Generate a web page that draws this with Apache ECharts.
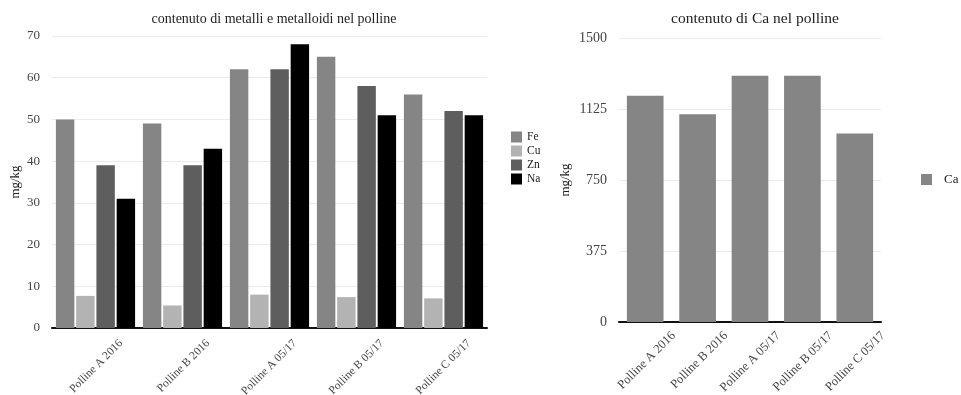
<!DOCTYPE html>
<html>
<head>
<meta charset="utf-8">
<script src="https://cdn.jsdelivr.net/npm/echarts@6/dist/echarts.min.js"></script>
<style>
  html, body { margin: 0; padding: 0; background: #fff; }
  #chart { width: 961px; height: 395px; }
</style>
</head>
<body>
<div id="chart"></div>
<script>
// Sample names shared by both panels
const categories = ['Polline A 2016', 'Polline B 2016', 'Polline A 05/17', 'Polline B 05/17', 'Polline C 05/17'];

// Metals and metalloids, mg/kg
const fe = [50, 49, 62, 65, 56];
const cu = [7.7, 5.4, 8.0, 7.4, 7.1];
const zn = [39, 39, 62, 58, 52];
const na = [31, 43, 68, 51, 51];

// Calcium, mg/kg
const ca = [1195, 1097, 1300, 1300, 995];

const leftTicks = [0, 10, 20, 30, 40, 50, 60, 70];
const rightTicks = [0, 375, 750, 1125, 1500];

const FONT = '"Liberation Serif", "DejaVu Serif", serif';
const TEXT = '#444';

const chart = echarts.init(document.getElementById('chart'), null, { renderer: 'canvas' });

function catAxis(gridIndex, fontSize, shift, margin) {
  return {
    type: 'category',
    gridIndex: gridIndex,
    data: categories,
    axisLine: { lineStyle: { color: '#111', width: 2 } },
    axisTick: { show: false },
    axisLabel: {
      rotate: 45,
      interval: 0,
      hideOverlap: false,
      margin: margin,
      fontFamily: FONT,
      fontSize: fontSize,
      color: TEXT,
      // slide each label along its own direction so it ends right of the category centre
      padding: [0, -shift, 0, 0]
    }
  };
}

function valAxis(gridIndex, ticks, fontSize, nameGap) {
  return {
    type: 'value',
    gridIndex: gridIndex,
    min: ticks[0],
    max: ticks[ticks.length - 1],
    interval: ticks[1] - ticks[0],
    name: 'mg/kg',
    nameLocation: 'middle',
    nameGap: nameGap,
    nameTextStyle: { fontFamily: FONT, fontSize: 13, color: '#222' },
    axisLine: { show: false },
    axisTick: { show: false },
    axisLabel: {
      fontFamily: FONT, fontSize: fontSize, color: TEXT, margin: 12,
      formatter: function (v) { return String(v); }
    },
    splitLine: { lineStyle: { color: '#ebebeb', width: 1 } }
  };
}

function metalSeries(name, data, color) {
  return {
    name: name,
    type: 'bar',
    xAxisIndex: 0,
    yAxisIndex: 0,
    data: data,
    barGap: '10%',
    barCategoryGap: '9%',
    itemStyle: { color: color },
    emphasis: { disabled: true }
  };
}

chart.setOption({
  animation: false,
  backgroundColor: '#fff',
  title: [
    {
      text: 'contenuto di metalli e metalloidi nel polline',
      left: 269, top: 7, textAlign: 'center',
      textStyle: { fontFamily: FONT, fontSize: 14, fontWeight: 'normal', color: '#222' }
    },
    {
      text: 'contenuto di Ca nel polline',
      left: 750, top: 6, textAlign: 'center',
      textStyle: { fontFamily: FONT, fontSize: 15.5, fontWeight: 'normal', color: '#222' }
    }
  ],
  legend: [
    {
      data: ['Fe', 'Cu', 'Zn', 'Na'],
      orient: 'vertical',
      left: 511, top: 131,
      padding: 0,
      itemWidth: 11, itemHeight: 11, itemGap: 2,
      icon: 'rect',
      textStyle: { fontFamily: FONT, fontSize: 11.5, color: '#222' }
    },
    {
      data: ['Ca'],
      left: 921, top: 173,
      padding: 0,
      itemWidth: 11, itemHeight: 11,
      icon: 'rect',
      textStyle: { fontFamily: FONT, fontSize: 13, color: '#222', padding: [0, 0, 0, 7] }
    }
  ],
  grid: [
    { left: 52, right: 474, top: 36, bottom: 67, containLabel: false, outerBoundsMode: 'none' },
    { left: 619, right: 80, top: 38, bottom: 73, containLabel: false, outerBoundsMode: 'none' }
  ],
  xAxis: [
    catAxis(0, 11.5, 36, 39),
    catAxis(1, 12.5, 40, 40)
  ],
  yAxis: [
    valAxis(0, leftTicks, 13, 30),
    valAxis(1, rightTicks, 14, 47)
  ],
  series: [
    metalSeries('Fe', fe, '#858585'),
    metalSeries('Cu', cu, '#b3b3b3'),
    metalSeries('Zn', zn, '#5e5e5e'),
    metalSeries('Na', na, '#000000'),
    {
      name: 'Ca',
      type: 'bar',
      xAxisIndex: 1,
      yAxisIndex: 1,
      data: ca,
      barCategoryGap: '30%',
      itemStyle: { color: '#858585' },
      emphasis: { disabled: true }
    }
  ]
});
</script>
</body>
</html>
